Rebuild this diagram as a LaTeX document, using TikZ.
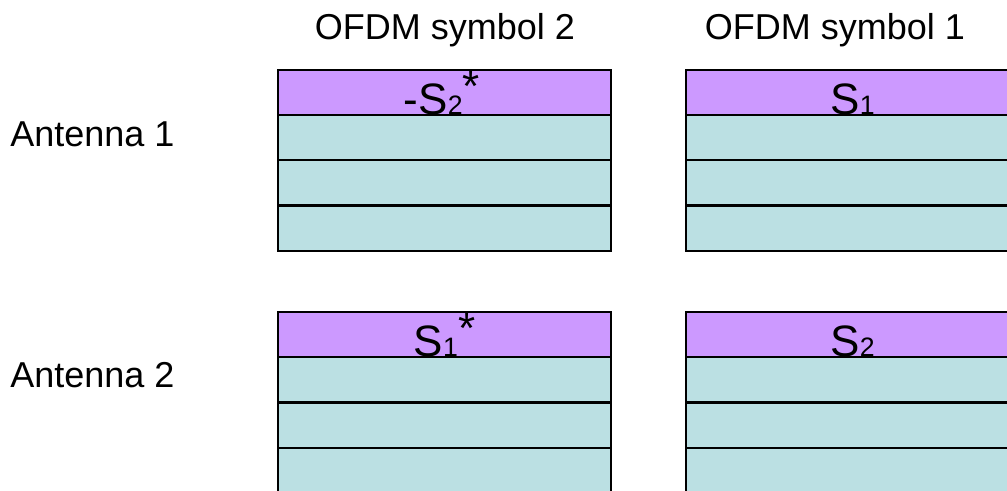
\documentclass[tikz,border=0pt]{standalone}
\usepackage{fontspec}
\setmainfont{Liberation Sans}
\definecolor{hdr}{HTML}{CC99FF}
\definecolor{cell}{HTML}{BBE0E3}
\newcommand{\bigS}[1]{{\fontsize{33pt}{36pt}\selectfont #1}}
\newcommand{\smallD}[1]{{\fontsize{20pt}{22pt}\selectfont #1}}
\newcommand{\conj}{\raisebox{9.4pt}{\fontsize{33pt}{36pt}\selectfont *}}
\begin{document}
\begin{tikzpicture}[x=0.75pt,y=-0.75pt,
  rowbox/.style={draw=black,line width=1.1pt,fill=cell,minimum width=249.75pt,minimum height=33.75pt,inner sep=0pt,outer sep=0pt,anchor=north west},
  hdrbox/.style={rowbox,fill=hdr},
  lbl/.style={font=\fontsize{27pt}{31pt}\selectfont,inner sep=0pt,anchor=base},
  sym/.style={inner sep=0pt,anchor=base}]
\clip (0,0) rectangle (1007,490);
\useasboundingbox (0,0) rectangle (1007,490);
% column headers
\node[lbl] (h2) at (445,39) {OFDM symbol 2};
\node[lbl] (h1) at (835,39) {OFDM symbol 1};
% antenna labels
\node[lbl,anchor=base west] (a1) at (10,146) {Antenna 1};
\node[lbl,anchor=base west] (a2) at (10,387) {Antenna 2};
% antenna 1, symbol 2
\node[rowbox] (a1s2r4) at (278,206) {};
\node[rowbox] (a1s2r3) at (278,160) {};
\node[rowbox] (a1s2r2) at (278,115) {};
\node[hdrbox] (a1s2) at (278,70) {};
% antenna 1, symbol 1
\node[rowbox] (a1s1r4) at (686,206) {};
\node[rowbox] (a1s1r3) at (686,160) {};
\node[rowbox] (a1s1r2) at (686,115) {};
\node[hdrbox] (a1s1) at (686,70) {};
% antenna 2, symbol 2
\node[rowbox] (a2s2r4) at (278,447) {};
\node[rowbox] (a2s2r3) at (278,403) {};
\node[rowbox] (a2s2r2) at (278,357) {};
\node[hdrbox] (a2s2) at (278,312) {};
% antenna 2, symbol 1
\node[rowbox] (a2s1r4) at (686,447) {};
\node[rowbox] (a2s1r3) at (686,403) {};
\node[rowbox] (a2s1r2) at (686,357) {};
\node[hdrbox] (a2s1) at (686,312) {};
% symbols
\node[sym] (t1) at ([yshift=0.4pt,xshift=-2pt]a1s2.south) {\bigS{-S}\smallD{2}\conj};
\node[sym] (t2) at ([yshift=0.4pt]a1s1.south) {\bigS{S}\smallD{1}};
\node[sym] (t3) at ([yshift=0.4pt]a2s2.south) {\bigS{S}\smallD{1}\conj};
\node[sym] (t4) at ([yshift=0.4pt]a2s1.south) {\bigS{S}\smallD{2}};
\end{tikzpicture}
\end{document}
